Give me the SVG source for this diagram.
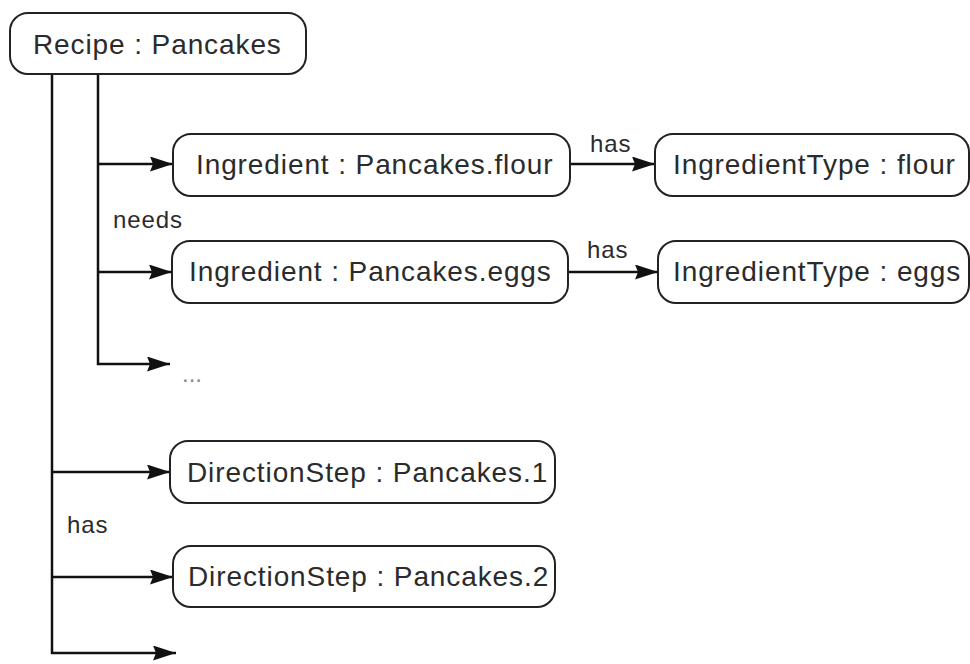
<svg xmlns="http://www.w3.org/2000/svg" width="970" height="664" viewBox="0 0 970 664">
<style>
.box{fill:#fff;stroke:#222;stroke-width:2}
.t{font-family:"Liberation Sans",Arial,sans-serif;font-size:28px;letter-spacing:0.9px;fill:#2b2b2b}
.lbl{font-family:"Liberation Sans",Arial,sans-serif;font-size:24px;letter-spacing:0.9px;fill:#2b2b2b}
.dots{font-family:"Liberation Sans",Arial,sans-serif;font-size:24px;fill:#888}
.c{fill:none;stroke:#111;stroke-width:2.5;marker-end:url(#ah)}
</style>
<defs>
<marker id="ah" markerUnits="userSpaceOnUse" markerWidth="23" markerHeight="15" refX="23" refY="7.5" orient="auto">
<path d="M0,0 L23,7.5 L0,15 L3,7.5 z" fill="#111"/>
</marker>
</defs>
<rect width="970" height="664" fill="#fff"/>
<g id="connectors">
<path class="c" d="M52,74 V653 H176"/>
<path class="c" d="M52,472 H170"/>
<path class="c" d="M52,577 H173"/>
<path class="c" d="M98,74 V364 H170"/>
<path class="c" d="M98,164 H173"/>
<path class="c" d="M98,272 H172"/>
<path class="c" d="M570,164 H655"/>
<path class="c" d="M568,272 H658"/>
<text class="lbl" x="113" y="228">needs</text>
<text class="lbl" x="590" y="152">has</text>
<text class="lbl" x="587" y="258">has</text>
<text class="lbl" x="67" y="533">has</text>
<text class="dots" x="182" y="382">...</text>
</g>
<g id="recipe">
<rect class="box" x="10" y="13" width="296" height="61" rx="18"/>
<text class="t" x="33" y="54">Recipe : Pancakes</text>
</g>
<g id="ing-flour">
<rect class="box" x="173" y="134" width="397" height="62" rx="18"/>
<text class="t" x="196" y="174">Ingredient : Pancakes.flour</text>
</g>
<g id="ing-eggs">
<rect class="box" x="172" y="241" width="396" height="62" rx="18"/>
<text class="t" x="189" y="281">Ingredient : Pancakes.eggs</text>
</g>
<g id="type-flour">
<rect class="box" x="655" y="134" width="314" height="62" rx="18"/>
<text class="t" x="673" y="174">IngredientType : flour</text>
</g>
<g id="type-eggs">
<rect class="box" x="658" y="241" width="311" height="62" rx="18"/>
<text class="t" x="673" y="281">IngredientType : eggs</text>
</g>
<g id="step1">
<rect class="box" x="170" y="441" width="385" height="62" rx="18"/>
<text class="t" x="187" y="482">DirectionStep : Pancakes.1</text>
</g>
<g id="step2">
<rect class="box" x="173" y="546" width="382" height="61" rx="18"/>
<text class="t" x="188" y="586">DirectionStep : Pancakes.2</text>
</g>
</svg>
